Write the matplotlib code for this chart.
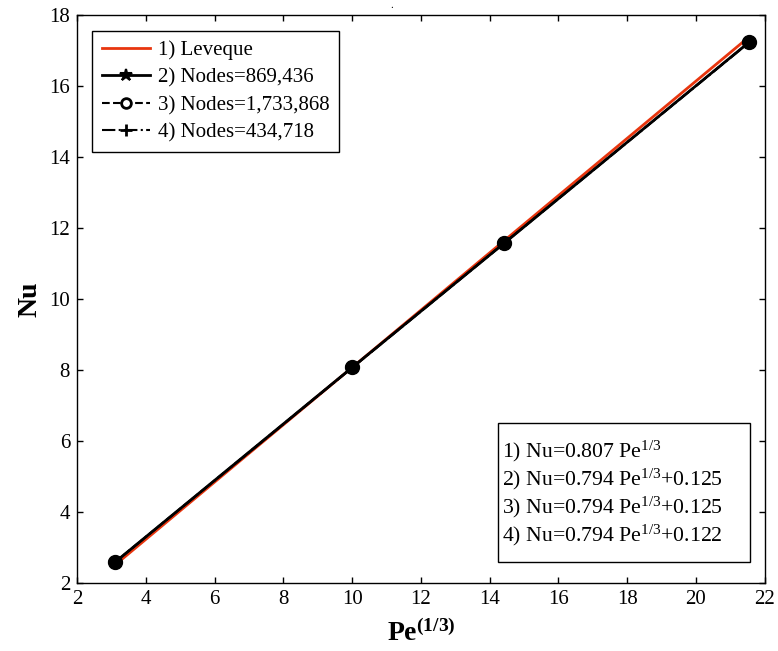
import matplotlib
matplotlib.use("Agg")
import matplotlib.pyplot as plt
from matplotlib.patches import Rectangle

# Pe^(1/3) at the four simulated cases
pe13 = [3.11, 10.0, 14.42, 21.54]

# Nusselt numbers
nu_leveque = [2.51, 8.07, 11.64, 17.38]
nu_869k = [2.59, 8.07, 11.57, 17.23]
nu_1733k = [2.59, 8.07, 11.57, 17.23]
nu_434k = [2.59, 8.06, 11.57, 17.22]

series_labels = [
    "1) Leveque",
    "2) Nodes=869,436",
    "3) Nodes=1,733,868",
    "4) Nodes=434,718",
]
fit_lines = [
    r"1) Nu=0.807 Pe$^{1/3}$",
    r"2) Nu=0.794 Pe$^{1/3}$+0.125",
    r"3) Nu=0.794 Pe$^{1/3}$+0.125",
    r"4) Nu=0.794 Pe$^{1/3}$+0.122",
]
xticks = list(range(2, 23, 2))
yticks = list(range(2, 19, 2))

plt.rcParams["font.family"] = ["Liberation Serif", "DejaVu Serif"]
plt.rcParams["mathtext.fontset"] = "custom"
plt.rcParams["mathtext.rm"] = "Liberation Serif"
plt.rcParams["mathtext.it"] = "Liberation Serif:italic"
plt.rcParams["mathtext.bf"] = "Liberation Serif:bold"

fig = plt.figure(figsize=(7.78, 6.51), dpi=100)
ax = fig.add_axes([0.099, 0.1045, 0.884, 0.8725])

ax.plot(pe13, nu_leveque, color="#e8350e", lw=2, label=series_labels[0], zorder=2)
ax.plot(pe13, nu_869k, color="black", lw=2, ls="-", marker="*", ms=9, mew=1.5,
        label=series_labels[1], zorder=3)
ax.plot(pe13, nu_1733k, color="black", lw=1.5, ls="--", marker="o", ms=7, mew=2,
        mfc="white", label=series_labels[2], zorder=3)
ax.plot(pe13, nu_434k, color="black", lw=1.5, ls="-.", marker="+", ms=9, mew=2,
        label=series_labels[3], zorder=3)

# the data points end up as solid blobs where the markers pile up
ax.plot(pe13, nu_869k, ls="none", marker="o", ms=10, color="black", zorder=4)

ax.set_xlim(2, 22)
ax.set_ylim(2, 18)
ax.set_xticks(xticks)
ax.set_yticks(yticks)
ax.tick_params(direction="in", top=True, right=True, length=4, width=1,
               labelsize=15, pad=5)
for sp in ax.spines.values():
    sp.set_linewidth(1)

ax.set_xlabel(r"$\mathbf{Pe^{(1/3)}}$", fontsize=20, labelpad=8)
ax.set_ylabel("Nu", fontsize=20, fontweight="bold", labelpad=5)

leg = ax.legend(loc="upper left", bbox_to_anchor=(0.022, 0.972),
                borderaxespad=0, fontsize=15, fancybox=False, framealpha=1,
                edgecolor="black", numpoints=1, handlelength=2.35,
                handletextpad=0.35, labelspacing=0.38, borderpad=0.45)
leg.get_frame().set_linewidth(1)

# fit equations in a fixed-size box, bottom right
ax.add_patch(Rectangle((0.612, 0.037), 0.366, 0.245, transform=ax.transAxes,
                       fc="white", ec="black", lw=1, zorder=5))
for i, line in enumerate(fit_lines):
    ax.text(0.618, 0.2218 - i * 0.0493, line, transform=ax.transAxes,
            fontsize=15.7, va="baseline", ha="left", zorder=6)

fig.text(392 / 778, 1 - 5 / 651, ".", fontsize=8, ha="center", va="center")

fig.savefig("out.png", dpi=100)
